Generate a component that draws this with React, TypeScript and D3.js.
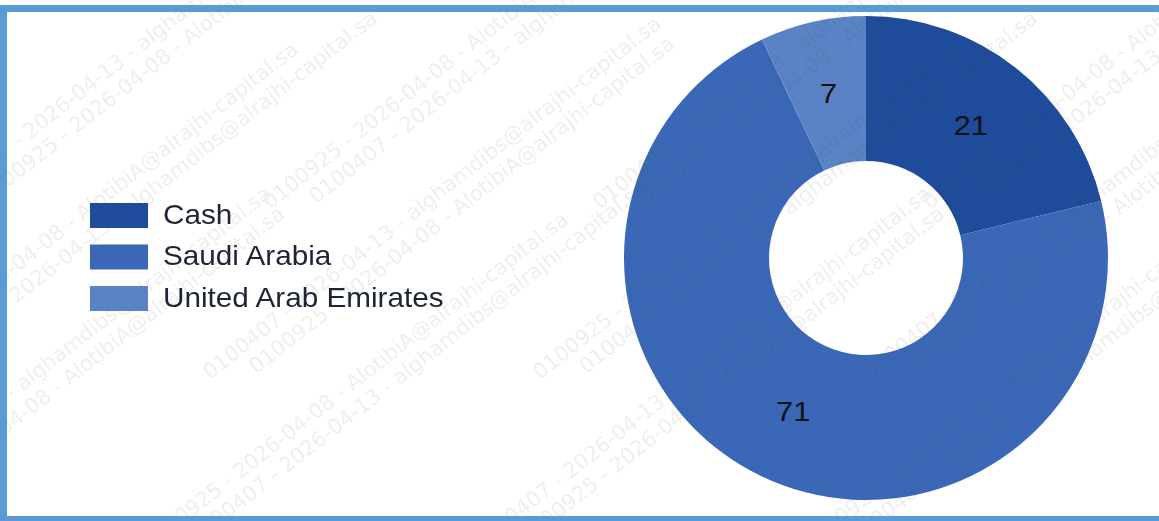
import { useEffect, useRef } from "react";
import * as d3 from "d3";

const categories = ["Cash", "Saudi Arabia", "United Arab Emirates"];
const values = [21, 71, 7];
const colors = ["#1f4c9a", "#3b68b6", "#5a83c5"];

const watermarkLines = [
  "0100407 - 2026-04-13 - alghamdibs@alrajhi-capital.sa",
  "0100925 - 2026-04-08 - AlotibiA@alrajhi-capital.sa",
];

export default function App() {
  const ref = useRef<SVGSVGElement | null>(null);

  useEffect(() => {
    if (!ref.current) return;
    const svg = d3.select(ref.current);
    svg.selectAll("*").remove();

    const width = 1159;
    const height = 521;
    const cx = 866;
    const cy = 258;
    const outer = 242;
    const inner = 97;
    const font = "Liberation Sans, Arial, sans-serif";

    svg.append("rect").attr("width", width).attr("height", height).attr("fill", "#fff");

    // donut, starting at 12 o'clock and going clockwise
    const pie = d3
      .pie<number>()
      .sort(null)
      .value((d) => d);
    const arcs = pie(values);
    const arc = d3.arc<d3.PieArcDatum<number>>().innerRadius(inner).outerRadius(outer);

    const g = svg.append("g").attr("transform", `translate(${cx},${cy})`);
    g.selectAll("path")
      .data(arcs)
      .enter()
      .append("path")
      .attr("d", arc)
      .attr("fill", (_, i) => colors[i]);

    // faint diagonal watermark
    const wm = svg.append("g").attr("opacity", 0.09).attr("fill", "#444");
    const starts: [number, number][] = [];
    d3.range(0, 4).forEach((col) => {
      d3.range(0, 3).forEach((row) => {
        starts.push([-60 + col * 330 - row * 60, 210 + row * 170]);
      });
    });
    starts.forEach(([x, y], k) => {
      const t = wm
        .append("text")
        .attr("transform", `translate(${x},${y}) rotate(-38)`)
        .attr("font-family", "DejaVu Sans, sans-serif")
        .attr("font-size", 21);
      t.append("tspan").attr("x", 0).attr("y", 0).text(watermarkLines[k % 2]);
      t.append("tspan").attr("x", 40).attr("y", 24).text(watermarkLines[(k + 1) % 2]);
    });

    g.selectAll("text")
      .data(arcs)
      .enter()
      .append("text")
      .attr("transform", (d) => `translate(${arc.centroid(d)}) scale(1.1,1)`)
      .attr("text-anchor", "middle")
      .attr("dy", "0.36em")
      .attr("font-family", font)
      .attr("font-size", 28)
      .attr("fill", "#111")
      .text((d) => d.data);

    // legend
    const legend = svg.append("g").attr("transform", "translate(90,203)");
    categories.forEach((c, i) => {
      const row = legend.append("g").attr("transform", `translate(0,${i * 41.5})`);
      row.append("rect").attr("width", 58).attr("height", 25).attr("fill", colors[i]);
      row
        .append("text")
        .attr("transform", "translate(73,20.5) scale(1.1,1)")
        .attr("font-family", font)
        .attr("font-size", 27)
        .attr("fill", "#1c2435")
        .text(c);
    });

    // frame
    svg.append("rect").attr("x", 0).attr("y", 5).attr("width", width).attr("height", 7).attr("fill", "#5b9bd5");
    svg.append("rect").attr("x", 0).attr("y", 516).attr("width", width).attr("height", 5).attr("fill", "#5b9bd5");
    svg.append("rect").attr("x", 0).attr("y", 5).attr("width", 7).attr("height", 516).attr("fill", "#5b9bd5");
  }, []);

  return (
    <svg
      ref={ref}
      width={1159}
      height={521}
      style={{ position: "absolute", left: 0, top: 0 }}
    />
  );
}
